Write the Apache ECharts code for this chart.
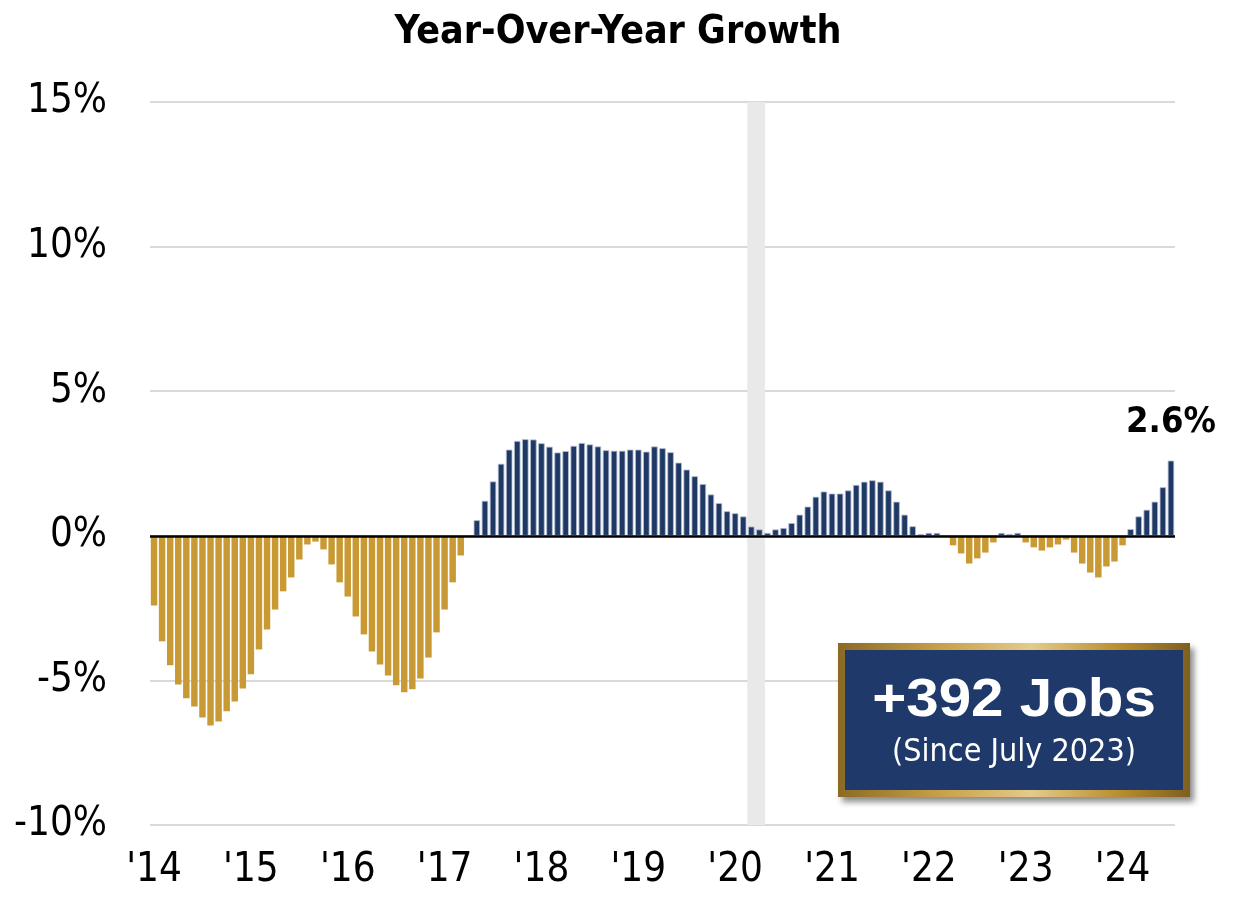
<!DOCTYPE html>
<html>
<head>
<meta charset="utf-8">
<script src="https://cdn.jsdelivr.net/npm/echarts@6/dist/echarts.min.js"></script>
<style>
  html, body { margin: 0; padding: 0; background: #fff; }
  #chart { width: 1236px; height: 902px; }
</style>
</head>
<body>
<div id="chart"></div>
<script>
  // monthly, Jan 2014 - Jul 2024
  var months = ['Jan', 'Feb', 'Mar', 'Apr', 'May', 'Jun', 'Jul', 'Aug', 'Sep', 'Oct', 'Nov', 'Dec']
  var years = [2014, 2015, 2016, 2017, 2018, 2019, 2020, 2021, 2022, 2023, 2024]
  var yearLabels = ["'14", "'15", "'16", "'17", "'18", "'19", "'20", "'21", "'22", "'23", "'24"]

  var growth = [
    // 2014
    -2.41, -3.65, -4.48, -5.14, -5.62, -5.90, -6.28, -6.56, -6.42, -6.07, -5.73, -5.28,
    // 2015
    -4.79, -3.93, -3.24, -2.55, -1.92, -1.44, -0.82, -0.30, -0.20, -0.47, -0.99, -1.61,
    // 2016
    -2.10, -2.79, -3.41, -4.00, -4.45, -4.83, -5.17, -5.41, -5.31, -4.93, -4.21, -3.34,
    // 2017
    -2.55, -1.61, -0.68, 0.00, 0.54, 1.21, 1.88, 2.49, 2.98, 3.28, 3.34, 3.33,
    // 2018
    3.20, 3.08, 2.88, 2.93, 3.11, 3.21, 3.16, 3.09, 2.96, 2.94, 2.94, 2.98,
    // 2019
    2.98, 2.91, 3.09, 3.03, 2.89, 2.53, 2.29, 2.06, 1.79, 1.43, 1.13, 0.85,
    // 2020
    0.78, 0.67, 0.32, 0.22, 0.10, 0.22, 0.27, 0.44, 0.73, 1.01, 1.35, 1.53,
    // 2021
    1.46, 1.46, 1.57, 1.76, 1.87, 1.92, 1.87, 1.57, 1.18, 0.73, 0.33, 0.06,
    // 2022
    0.10, 0.10, 0.00, -0.33, -0.61, -0.96, -0.78, -0.58, -0.23, 0.10, 0.06, 0.10,
    // 2023
    -0.23, -0.40, -0.51, -0.40, -0.30, -0.13, -0.58, -0.96, -1.27, -1.44, -1.06, -0.89,
    // 2024
    -0.33, 0.23, 0.67, 0.90, 1.18, 1.68, 2.60
  ]

  // recession shading, in months since Jan 2014 (Mar 2020 - Apr 2020)
  var recession = [74, 76.2]
  var boxTitle = '+392 Jobs'
  var boxSub = '(Since July 2023)'

  var categories = []
  years.forEach(function (y) {
    months.forEach(function (m) {
      if (categories.length < growth.length) categories.push(m + ' ' + y)
    })
  })

  var narrow = "'Liberation Sans Narrow', 'Arial Narrow', 'DejaVu Sans Condensed', sans-serif"
  var gold = '#C99A34'
  var navy = '#1F3864'

  var barData = growth.map(function (v, i) {
    var item = {
      value: v,
      itemStyle: v >= 0
        ? { color: navy, borderColor: '#b4bed2', borderWidth: 0.8 }
        : { color: gold }
    }
    if (i === growth.length - 1) {
      item.label = {
        show: true,
        position: 'top',
        distance: 20,
        formatter: v.toFixed(1) + '%',
        fontFamily: narrow,
        fontWeight: 'bold',
        fontSize: 36,
        color: '#000'
      }
    }
    return item
  })

  var chart = echarts.init(document.getElementById('chart'))
  var option = {
    animation: false,
    title: {
      text: 'Year-Over-Year Growth',
      left: 'center',
      top: 8,
      textStyle: { fontFamily: narrow, fontWeight: 'bold', fontSize: 39, color: '#000' }
    },
    grid: { left: 150, right: 61, top: 102, bottom: 77 },
    xAxis: [{
      type: 'category',
      data: categories,
      axisLine: { show: false },
      axisTick: { show: false },
      axisLabel: {
        interval: function (i) { return i % 12 === 0 },
        formatter: function (val, i) { return yearLabels[Math.floor(i / 12)] },
        fontFamily: narrow,
        fontSize: 40,
        color: '#000',
        margin: 26
      }
    }, {
      type: 'value',
      min: 0,
      max: growth.length,
      show: false
    }],
    yAxis: {
      type: 'value',
      min: -10,
      max: 15,
      interval: 5,
      axisLine: { show: false },
      axisTick: { show: false },
      splitLine: { lineStyle: { color: '#d9d9d9', width: 2 } },
      axisLabel: {
        formatter: '{value}%',
        fontFamily: narrow,
        fontSize: 40,
        color: '#000',
        margin: 43
      }
    },
    series: [{
      type: 'line',
      xAxisIndex: 1,
      data: [],
      silent: true,
      markArea: {
        silent: true,
        itemStyle: { color: '#e9e9e9' },
        data: [[{ xAxis: recession[0], yAxis: 15 }, { xAxis: recession[1], yAxis: -10.1 }]]
      }
    }, {
      type: 'bar',
      data: barData,
      barCategoryGap: '20%',
      markLine: {
        silent: true,
        symbol: 'none',
        label: { show: false },
        lineStyle: { color: '#000', width: 2.5, type: 'solid' },
        data: [{ yAxis: 0 }]
      }
    }],
    graphic: [{
      type: 'rect',
      z: 100,
      shape: { x: 838, y: 643, width: 352, height: 154 },
      style: {
        fill: {
          type: 'linear', x: 0, y: 0, x2: 1, y2: 0,
          colorStops: [
            { offset: 0, color: '#8a6a24' },
            { offset: 0.3, color: '#c9a24a' },
            { offset: 0.55, color: '#e3cb8a' },
            { offset: 0.8, color: '#b88d2e' },
            { offset: 1, color: '#7d5f1f' }
          ]
        },
        shadowBlur: 6,
        shadowOffsetX: 4,
        shadowOffsetY: 5,
        shadowColor: 'rgba(0,0,0,0.45)'
      }
    }, {
      type: 'rect',
      z: 101,
      shape: { x: 845, y: 650, width: 338, height: 140 },
      style: { fill: '#1F3A6A' }
    }, {
      type: 'text',
      z: 102,
      x: 1014,
      y: 701,
      scaleX: 1.08,
      style: {
        text: boxTitle,
        fill: '#fff',
        font: "bold 54px 'Liberation Sans', Arial, sans-serif",
        align: 'center',
        verticalAlign: 'middle'
      }
    }, {
      type: 'text',
      z: 102,
      x: 1014,
      y: 753,
      style: {
        text: boxSub,
        fill: '#fff',
        font: '32px ' + narrow,
        align: 'center',
        verticalAlign: 'middle'
      }
    }]
  }
  chart.setOption(option)
</script>
</body>
</html>
